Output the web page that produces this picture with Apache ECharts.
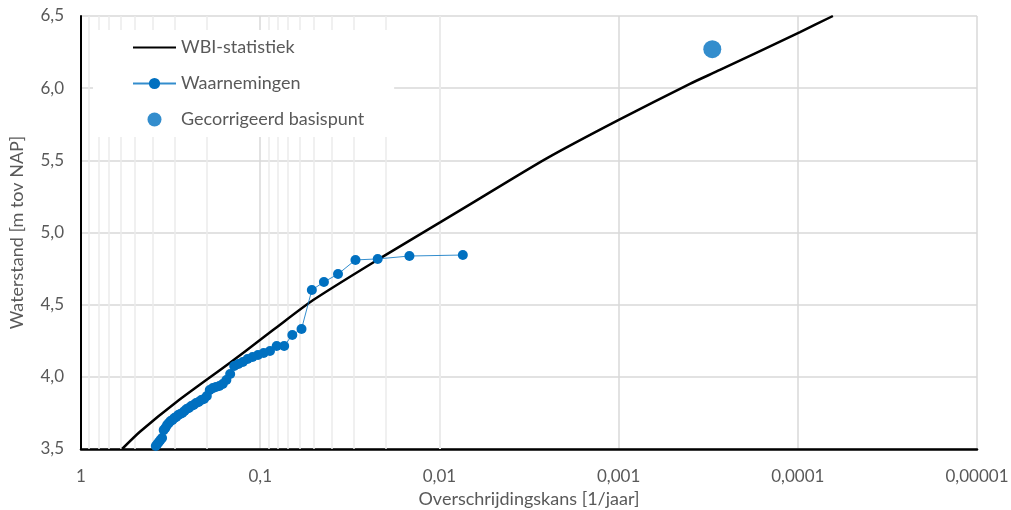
<!DOCTYPE html>
<html>
<head>
<meta charset="utf-8">
<script src="https://cdn.jsdelivr.net/npm/echarts@6/dist/echarts.min.js"></script>
<style>
html,body{margin:0;padding:0;background:#fff;}
#chart{width:1011px;height:510px;}
</style>
</head>
<body>
<div id="chart"></div>
<script>
// ---- data ----
var xTickLabels = ['1', '0,1', '0,01', '0,001', '0,0001', '0,00001'];
var yTickLabels = ['3,5', '4,0', '4,5', '5,0', '5,5', '6,0', '6,5'];

// WBI-statistiek: exceedance probability [1/jaar] and water level [m tov NAP]
var wbiP = [0.590, 0.469, 0.292, 0.1474, 0.1003, 0.0848, 0.0506, 0.02146, 0.00992, 0.00675, 0.00252, 0.001004, 0.0004, 0.000272, 0.0000972, 0.0000637];
var wbiH = [3.50, 3.62, 3.828, 4.098, 4.255, 4.324, 4.532, 4.821, 5.070, 5.195, 5.514, 5.779, 6.030, 6.126, 6.389, 6.500];

// Waarnemingen
var obsP = [0.0074, 0.0147, 0.0221, 0.0294, 0.0368, 0.0441, 0.0515, 0.0588, 0.0662, 0.0735, 0.0809, 0.0882, 0.0956, 0.1029, 0.1103, 0.1176, 0.125, 0.1324, 0.1397, 0.1471, 0.1544, 0.1618, 0.1691, 0.1765, 0.1838, 0.1912, 0.1985, 0.2059, 0.2132, 0.2206, 0.2279, 0.2353, 0.2426, 0.25, 0.2574, 0.2647, 0.2721, 0.2794, 0.2868, 0.2941, 0.3015, 0.3088, 0.3162, 0.3235, 0.3309, 0.3382, 0.3456, 0.3529, 0.3603, 0.3676, 0.375, 0.3824];
var obsH = [4.844, 4.837, 4.817, 4.810, 4.712, 4.657, 4.602, 4.331, 4.290, 4.214, 4.214, 4.179, 4.165, 4.151, 4.137, 4.123, 4.103, 4.089, 4.075, 4.020, 3.978, 3.950, 3.936, 3.929, 3.922, 3.909, 3.867, 3.846, 3.839, 3.826, 3.819, 3.805, 3.798, 3.784, 3.777, 3.763, 3.749, 3.742, 3.736, 3.722, 3.715, 3.701, 3.694, 3.680, 3.666, 3.645, 3.631, 3.576, 3.562, 3.548, 3.535, 3.521];

// Gecorrigeerd basispunt
var basisP = [0.0003];
var basisH = [6.27];

// ---- build ----
function pairs(a, b) { var r = []; for (var i = 0; i < a.length; i++) r.push([a[i], b[i]]); return r; }

var minorLines = [];
for (var k = -5; k <= -1; k++) {
  for (var m = 2; m <= 9; m++) {
    minorLines.push({ xAxis: Number((m * Math.pow(10, k)).toPrecision(3)) });
  }
}

var FONT = 'Lato';
var GREY = '#595959';
var BLUE = '#0070C0';

var chart = echarts.init(document.getElementById('chart'), null, { renderer: 'canvas' });
chart.setOption({
  animation: false,
  backgroundColor: '#fff',
  textStyle: { fontFamily: FONT },
  grid: { left: 81, right: 34, top: 16, bottom: 61, containLabel: false, outerBoundsMode: 'none' },
  legend: {
    orient: 'vertical',
    left: 93,
    top: 30,
    z: 10,
    backgroundColor: '#fff',
    padding: [7, 30, 7, 39],
    itemWidth: 43,
    itemHeight: 14,
    itemGap: 15,
    data: [
      { name: 'WBI-statistiek', itemStyle: { opacity: 0 } },
      { name: 'Waarnemingen' },
      { name: 'Gecorrigeerd basispunt' }
    ],
    textStyle: { color: GREY, fontSize: 18, fontFamily: FONT, lineHeight: 21 }
  },
  xAxis: {
    type: 'log',
    logBase: 10,
    min: 0.00001,
    max: 1,
    inverse: true,
    name: 'Overschrijdingskans [1/jaar]',
    nameLocation: 'middle',
    nameGap: 40,
    nameTextStyle: { color: GREY, fontSize: 18, fontFamily: FONT },
    axisLine: { show: true, onZero: false, lineStyle: { color: '#000', width: 2.5 } },
    axisTick: { show: false },
    axisLabel: {
      color: GREY, fontSize: 17, fontFamily: FONT, margin: 19,
      formatter: function (v) {
        var i = Math.round(-Math.log10(v));
        return xTickLabels[i] !== undefined ? xTickLabels[i] : '';
      }
    },
    splitLine: { show: true, lineStyle: { color: '#D9D9D9', width: 1.5 } }
  },
  yAxis: {
    type: 'value',
    min: 3.5,
    max: 6.5,
    interval: 0.5,
    name: 'Waterstand [m tov NAP]',
    nameLocation: 'middle',
    nameGap: 55,
    nameRotate: 90,
    nameTextStyle: { color: GREY, fontSize: 18, fontFamily: FONT },
    axisLine: { show: true, onZero: false, lineStyle: { color: '#000', width: 2 } },
    axisTick: { show: false },
    axisLabel: {
      color: GREY, fontSize: 17, fontFamily: FONT, margin: 17,
      formatter: function (v) {
        var i = Math.round((v - 3.5) / 0.5);
        return yTickLabels[i] !== undefined ? yTickLabels[i] : '';
      }
    },
    splitLine: { show: true, lineStyle: { color: '#D9D9D9', width: 1.5 } }
  },
  series: [
    {
      name: 'minor',
      type: 'line',
      data: [],
      z: 1,
      silent: true,
      markLine: {
        z: 1,
        silent: true,
        symbol: ['none', 'none'],
        label: { show: false },
        emphasis: { disabled: true },
        animation: false,
        lineStyle: { color: '#EBEBEB', width: 1.5, type: 'solid' },
        data: minorLines
      }
    },
    {
      name: 'WBI-statistiek',
      type: 'line',
      data: pairs(wbiP, wbiH),
      showSymbol: false,
      symbol: 'circle',
      smooth: 0.25,
      z: 3,
      lineStyle: { color: '#000', width: 2.5 },
      itemStyle: { color: '#000' }
    },
    {
      name: 'Waarnemingen',
      type: 'line',
      data: pairs(obsP, obsH),
      symbol: 'circle',
      symbolSize: 10,
      z: 4,
      lineStyle: { color: BLUE, width: 1, opacity: 0.8 },
      itemStyle: { color: BLUE }
    },
    {
      name: 'Gecorrigeerd basispunt',
      type: 'scatter',
      data: pairs(basisP, basisH),
      symbol: 'circle',
      symbolSize: 18,
      z: 4,
      itemStyle: { color: BLUE }
    }
  ]
});
</script>
</body>
</html>
